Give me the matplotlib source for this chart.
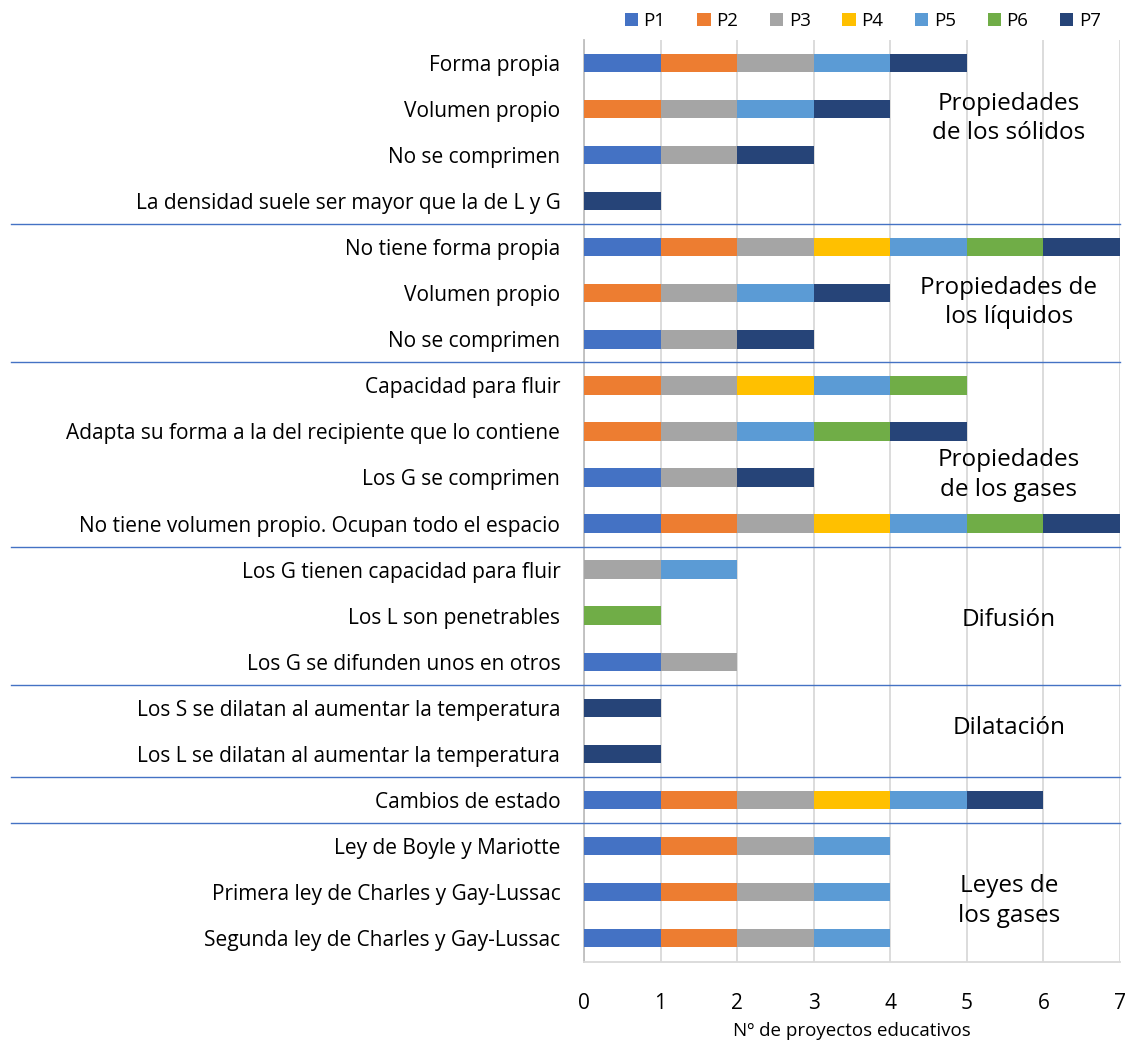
import numpy as np
import matplotlib
matplotlib.use("Agg")
import matplotlib.pyplot as plt
import matplotlib.transforms as mtransforms

plt.rcParams['font.family'] = ['Open Sans', 'DejaVu Sans']

# datos: filas (de arriba a abajo) y presencia en cada proyecto P1..P7
filas = [
    "Forma propia", "Volumen propio", "No se comprimen",
    "La densidad suele ser mayor que la de L y G",
    "No tiene forma propia", "Volumen propio", "No se comprimen",
    "Capacidad para fluir", "Adapta su forma a la del recipiente que lo contiene",
    "Los G se comprimen", "No tiene volumen propio. Ocupan todo el espacio",
    "Los G tienen capacidad para fluir", "Los L son penetrables",
    "Los G se difunden unos en otros",
    "Los S se dilatan al aumentar la temperatura",
    "Los L se dilatan al aumentar la temperatura",
    "Cambios de estado",
    "Ley de Boyle y Mariotte", "Primera ley de Charles y Gay-Lussac",
    "Segunda ley de Charles y Gay-Lussac",
]
proyectos = ["P1", "P2", "P3", "P4", "P5", "P6", "P7"]
P1 = [1, 0, 1, 0, 1, 0, 1, 0, 0, 1, 1, 0, 0, 1, 0, 0, 1, 1, 1, 1]
P2 = [1, 1, 0, 0, 1, 1, 0, 1, 1, 0, 1, 0, 0, 0, 0, 0, 1, 1, 1, 1]
P3 = [1, 1, 1, 0, 1, 1, 1, 1, 1, 1, 1, 1, 0, 1, 0, 0, 1, 1, 1, 1]
P4 = [0, 0, 0, 0, 1, 0, 0, 1, 0, 0, 1, 0, 0, 0, 0, 0, 1, 0, 0, 0]
P5 = [1, 1, 0, 0, 1, 1, 0, 1, 1, 0, 1, 1, 0, 0, 0, 0, 1, 1, 1, 1]
P6 = [0, 0, 0, 0, 1, 0, 0, 1, 1, 0, 1, 0, 1, 0, 0, 0, 0, 0, 0, 0]
P7 = [1, 1, 1, 1, 1, 1, 1, 0, 1, 1, 1, 0, 0, 0, 1, 1, 1, 0, 0, 0]
series = [P1, P2, P3, P4, P5, P6, P7]
colores = ["#4472C4", "#ED7D31", "#A5A5A5", "#FFC000", "#5B9BD5", "#70AD47", "#264478"]

grupos = ["Propiedades\nde los sólidos", "Propiedades de\nlos líquidos",
          "Propiedades\nde los gases", "Difusión", "Dilatación", "",
          "Leyes de\nlos gases"]
tam_grupos = [4, 3, 4, 3, 2, 1, 3]
# posicion vertical (en filas) de cada titulo de grupo
pos_titulo = [1.2, 5.2, 8.95, 12.1, 14.45, None, 18.2]

fig = plt.figure(figsize=(11.28, 10.41), dpi=100)
ax = fig.add_axes([0.5177, 0.0759, 0.4752, 0.8857])

y = np.arange(len(filas))
izq = np.zeros(len(filas))
for nombre, vals, c in zip(proyectos, series, colores):
    vals = np.array(vals)
    ax.barh(y, vals, left=izq, height=0.4, color=c, label=nombre, zorder=3)
    izq += vals

ax.set_xlim(0, 7)
ax.set_ylim(len(filas) - 0.48, -0.5)
ax.set_xticks(range(8))
ax.set_yticks(y)
ax.set_yticklabels(filas, fontsize=15)
ax.tick_params(axis='y', length=0, pad=17)
ax.tick_params(axis='x', length=0, pad=22, labelsize=15)
ax.grid(axis='x', color='#D9D9D9', linewidth=1.3, zorder=0)
for s in ['top', 'right']:
    ax.spines[s].set_visible(False)
ax.spines['left'].set_color('#BFBFBF')
ax.spines['left'].set_linewidth(1.3)
ax.spines['bottom'].set_color('#D9D9D9')
ax.spines['bottom'].set_linewidth(1.3)
ax.set_xlabel("Nº de proyectos educativos", fontsize=13.5, labelpad=6)

# lineas separadoras y titulos de grupo
trans = mtransforms.blended_transform_factory(fig.transFigure, ax.transData)
inicio = 0
for i, (g, n) in enumerate(zip(grupos, tam_grupos)):
    fin = inicio + n
    if i < len(grupos) - 1:
        ax.plot([0.01, 0.993], [fin - 0.5, fin - 0.5], transform=trans,
                color="#4472C4", linewidth=1, clip_on=False, zorder=4)
    if g:
        ax.text(5.55, pos_titulo[i], g, ha='center', va='center',
                fontsize=17.5, linespacing=1.3, zorder=5)
    inicio = fin

fig.legend(loc='upper center', bbox_to_anchor=(0.765, 1.005), ncol=7,
           frameon=False, fontsize=13.5, handlelength=0.7, handleheight=0.7,
           columnspacing=1.7, handletextpad=0.3)

fig.savefig("out.png", dpi=100)
